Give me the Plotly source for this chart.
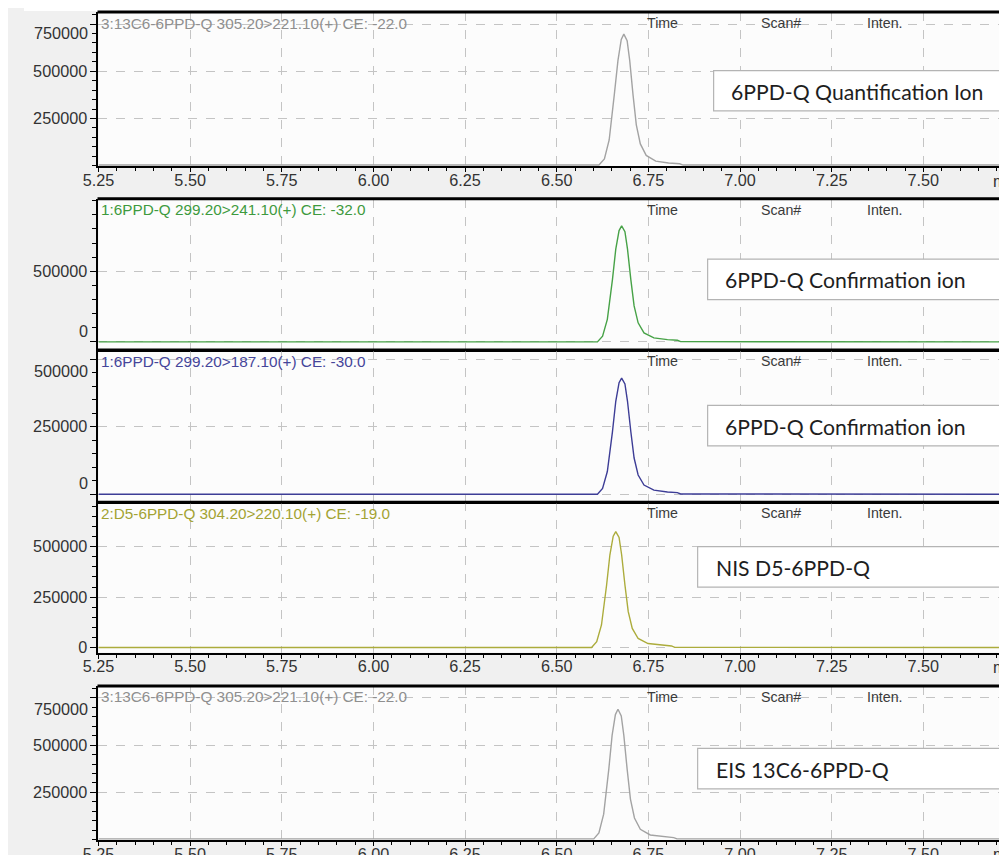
import plotly.graph_objects as go

W, H = 1007, 855

# ---------------- data: retention time (min) and intensity (counts) ----------------
quant_time = [5.25, 6.615, 6.630, 6.643, 6.657, 6.667, 6.676, 6.683, 6.692, 6.699, 6.708,
              6.717, 6.728, 6.744, 6.770, 6.805, 6.835, 6.845, 7.76]
quant_int = [3000, 3000, 35000, 136000, 376000, 558000, 669000, 697000, 662000, 558000, 376000,
             216000, 115000, 54000, 24000, 14000, 10000, 3000, 3000]

conf1_time = [5.25, 6.611, 6.625, 6.638, 6.652, 6.661, 6.670, 6.677, 6.686, 6.693, 6.702,
              6.711, 6.722, 6.738, 6.765, 6.802, 6.829, 6.838, 7.76]
conf1_int = [0, 0, 41000, 160000, 443000, 657000, 788000, 821000, 780000, 657000, 443000,
             255000, 135000, 64000, 29000, 16000, 12000, 2000, 0]

conf2_time = [5.25, 6.611, 6.625, 6.638, 6.652, 6.661, 6.670, 6.677, 6.686, 6.693, 6.702,
              6.711, 6.722, 6.738, 6.765, 6.802, 6.829, 6.838, 7.76]
conf2_int = [0, 0, 21000, 84000, 232000, 344000, 413000, 430000, 408000, 344000, 232000,
             134000, 71000, 34000, 15000, 8000, 6000, 1000, 0]

nis_time = [5.25, 6.595, 6.609, 6.622, 6.636, 6.645, 6.654, 6.661, 6.670, 6.677, 6.686,
            6.695, 6.706, 6.722, 6.749, 6.786, 6.813, 6.822, 7.76]
nis_int = [0, 0, 29000, 112000, 310000, 460000, 552000, 575000, 546000, 460000, 310000,
           178000, 95000, 45000, 20000, 11000, 8000, 1000, 0]

eis_time = [5.25, 6.601, 6.615, 6.628, 6.642, 6.651, 6.660, 6.667, 6.676, 6.683, 6.692,
            6.701, 6.712, 6.728, 6.755, 6.792, 6.819, 6.828, 7.76]
eis_int = [3000, 3000, 35000, 134000, 373000, 552000, 662000, 690000, 655000, 552000, 373000,
           214000, 114000, 54000, 24000, 14000, 10000, 3000, 3000]

trace_labels = ["3:13C6-6PPD-Q 305.20>221.10(+) CE: -22.0",
                "1:6PPD-Q 299.20>241.10(+) CE: -32.0",
                "1:6PPD-Q 299.20>187.10(+) CE: -30.0",
                "2:D5-6PPD-Q 304.20>220.10(+) CE: -19.0",
                "3:13C6-6PPD-Q 305.20>221.10(+) CE: -22.0"]
box_labels = ["6PPD-Q Quantification Ion", "6PPD-Q Confirmation ion",
              "6PPD-Q Confirmation ion", "NIS D5-6PPD-Q", "EIS 13C6-6PPD-Q"]
header_cols = ["Time", "Scan#", "Inten."]

y_ticks = [[250000, 500000, 750000],
           [0, 500000],
           [0, 250000, 500000],
           [0, 250000, 500000],
           [250000, 500000, 750000]]

x_range = [5.25, 7.750]

# ---------------- layout helpers ----------------
# page placement of the drawing as observed when photographed
S, OX, OY = 0.9855, 22.4, 8.0

def fx(X):
    """target picture x (px) -> paper fraction"""
    return (X - OX) / S / W

def fy(Y):
    """target picture y (px) -> paper fraction"""
    return 1 - (Y - OY) / S / H

def fs(size):
    return size / S

panels = [
    dict(t=quant_time, v=quant_int, color="#a3a3a3", tcolor="#8f8f8f", top=12, bottom=165,
         yr=[-4000, 814000], minor=50000, shift={750000: -9}, xlab=True,
         box=(713, 1030, 70, 110, 728)),
    dict(t=conf1_time, v=conf1_int, color="#47a247", tcolor="#3e9a3e", top=197, bottom=347,
         yr=[-57000, 1014000], minor=100000, shift={0: 11}, xlab=False,
         box=(707, 1003, 257, 297, 722)),
    dict(t=conf2_time, v=conf2_int, color="#3d3d96", tcolor="#45459a", top=347, bottom=498,
         yr=[-30000, 534000], minor=50000, shift={0: 11, 500000: -12}, xlab=False,
         box=(707, 1002, 402, 442, 722)),
    dict(t=nis_time, v=nis_int, color="#acac3c", tcolor="#a3a333", top=498, bottom=647,
         yr=[-25000, 720000], minor=50000, shift={}, xlab=True,
         box=(697, 1000, 542, 582, 713)),
    dict(t=eis_time, v=eis_int, color="#a3a3a3", tcolor="#8f8f8f", top=680, bottom=833,
         yr=[-4000, 814000], minor=50000, shift={750000: -11}, xlab=True,
         box=(697, 1000, 742, 782, 713)),
]

fig = go.Figure()
shapes = []
annotations = []
layout_axes = {}

tick_font = dict(family="Liberation Sans, Arial", size=fs(16), color="#333333")
grid_col = "#c4c4c4"

for i, p in enumerate(panels):
    n = i + 1
    xa = "x" if n == 1 else f"x{n}"
    ya = "y" if n == 1 else f"y{n}"
    xkey = "xaxis" if n == 1 else f"xaxis{n}"
    ykey = "yaxis" if n == 1 else f"yaxis{n}"

    fig.add_trace(go.Scatter(x=p["t"], y=p["v"], mode="lines", xaxis=xa, yaxis=ya,
                             line=dict(color=p["color"], width=1.4), showlegend=False,
                             hoverinfo="skip"))

    xdict = dict(domain=[fx(97), 1], anchor=ya, range=x_range, tick0=5.25, dtick=0.25,
                 showgrid=True, gridcolor=grid_col, griddash="dash", gridwidth=1,
                 showline=True, linecolor="black", linewidth=2, zeroline=False,
                 tickformat=".2f", tickfont=tick_font)
    if p["xlab"]:
        xdict.update(ticks="outside", ticklen=4, tickwidth=1.3, tickcolor="black",
                     showticklabels=True, ticklabelstandoff=-6,
                     minor=dict(dtick=0.05, tick0=5.25, ticks="outside", ticklen=3,
                                tickcolor="black", showgrid=False))
    else:
        xdict.update(ticks="", showticklabels=False)
    if n > 1:
        xdict["matches"] = "x"
    layout_axes[xkey] = xdict

    tv = y_ticks[i]
    tt = ["" if v in p["shift"] else str(v) for v in tv]
    layout_axes[ykey] = dict(domain=[fy(p["bottom"]), fy(p["top"])], anchor=xa,
                             range=p["yr"], tickvals=tv, ticktext=tt,
                             showgrid=True, gridcolor=grid_col, griddash="dash", gridwidth=1,
                             showline=True, linecolor="black", linewidth=2, zeroline=False,
                             ticks="outside", ticklen=6, tickwidth=1.3, tickcolor="black",
                             tickfont=tick_font,
                             minor=dict(dtick=p["minor"], tick0=0, ticks="outside", ticklen=4,
                                        tickcolor="black", showgrid=False))
    for v, s in p["shift"].items():
        annotations.append(dict(text=str(v), xref="paper", x=fx(88), xanchor="right",
                                yref=ya, y=v, yanchor="middle", yshift=s / S, showarrow=False,
                                font=tick_font))

    # thick top border of the panel
    shapes.append(dict(type="line", xref="paper", yref="paper", x0=fx(96), x1=1.01,
                       y0=fy(p["top"]), y1=fy(p["top"]), line=dict(color="black", width=3)))

    # header: trace name and column titles
    annotations.append(dict(text=trace_labels[i], xref="paper", x=fx(98), xanchor="left",
                            yref="paper", y=fy(p["top"] + 11), yanchor="middle",
                            showarrow=False,
                            font=dict(family="Liberation Sans, Arial", size=15.3,
                                      color=p["tcolor"])))
    for hx, htxt in zip([662, 780, 885], header_cols):
        annotations.append(dict(text=htxt, xref="paper", x=fx(hx), xanchor="center",
                                yref="paper", y=fy(p["top"] + 11), yanchor="middle",
                                showarrow=False,
                                font=dict(family="Liberation Sans, Arial", size=fs(14),
                                          color="#3a3a3a")))

    # label box
    bx0, bx1, by0, by1, tx = p["box"]
    shapes.append(dict(type="rect", xref="paper", yref="paper", x0=fx(bx0), x1=fx(bx1),
                       y0=fy(by1), y1=fy(by0), fillcolor="white",
                       line=dict(color="#b4b4b4", width=1.2), layer="above"))
    annotations.append(dict(text=box_labels[i], xref="paper", x=fx(tx), xanchor="left",
                            yref="paper", y=fy((by0 + by1) / 2 + 1), yanchor="middle",
                            showarrow=False,
                            font=dict(family="Lato, Carlito, sans-serif", size=21.2,
                                      color="#1e1e1e")))

    # "min" unit label at the right end of the time axis
    if p["xlab"]:
        annotations.append(dict(text="min", xref="paper", x=fx(991), xanchor="left",
                                yref="paper", y=fy(p["bottom"] + 14), yanchor="middle",
                                showarrow=False, font=tick_font))

# ---------------- window decorations ----------------
shapes.append(dict(type="rect", xref="paper", yref="paper", x0=0, x1=1, y0=fy(11), y1=1,
                   fillcolor="white", line=dict(width=0), layer="below"))

fig.update_layout(width=W, height=H, margin=dict(l=0, r=0, t=0, b=0),
                  paper_bgcolor="#f0f0f0", plot_bgcolor="#fcfcfc",
                  shapes=shapes, annotations=annotations, showlegend=False,
                  **layout_axes)

fig.write_html("out.html")
